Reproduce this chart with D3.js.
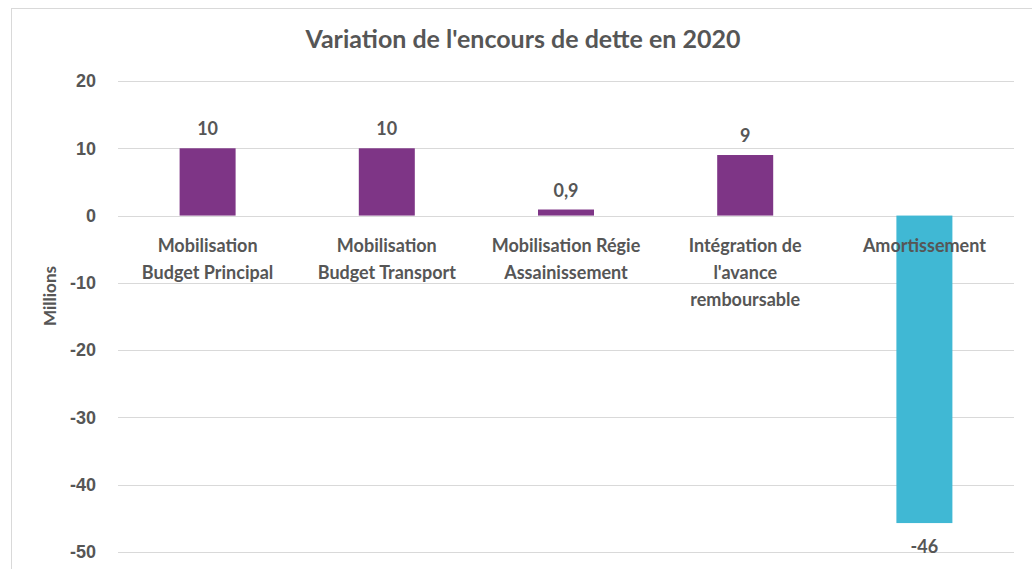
<!DOCTYPE html>
<html>
<head>
<meta charset="utf-8">
<script src="https://cdn.jsdelivr.net/npm/d3@7"></script>
<style>
  body { margin: 0; background: #fff; }
  svg { display: block; font-family: Lato, "Open Sans", sans-serif; font-weight: bold; }
  .grid line { stroke: #d9d9d9; stroke-width: 1; }
  .tick-label, .cat-label, .val-label, .title, .y-title { fill: #565656; }
</style>
</head>
<body>
<svg id="chart" width="1032" height="569"></svg>
<script>
//

const categories = [
  ['Mobilisation', 'Budget Principal'],
  ['Mobilisation', 'Budget Transport'],
  ['Mobilisation Régie', 'Assainissement'],
  ['Intégration de', "l'avance", 'remboursable'],
  ['Amortissement']
]
const values = [10, 10, 0.9, 9, -45.7]
const barColors = ['#7e3586', '#7e3586', '#7e3586', '#7e3586', '#40b8d4']
const yTicks = [20, 10, 0, -10, -20, -30, -40, -50]

//

const svg = d3.select('#chart')
const margin = {top: 81, right: 18, bottom: 17, left: 118}
const width = 1032 - margin.left - margin.right
const height = 569 - margin.top - margin.bottom

// chart frame
svg.append('rect')
  .attr('x', 11.5).attr('y', 8.5)
  .attr('width', 1040).attr('height', 600)
  .attr('fill', 'none')
  .attr('stroke', '#d9d9d9')

svg.append('text')
  .attr('class', 'title')
  .attr('x', 523).attr('y', 48)
  .attr('text-anchor', 'middle')
  .attr('font-size', 25)
  .text("Variation de l'encours de dette en 2020")

const g = svg.append('g')
  .attr('transform', 'translate(' + margin.left + ',' + margin.top + ')')

const x = d3.scaleBand()
  .domain(d3.range(categories.length))
  .range([0, width])
  .paddingInner(0.6875)
  .paddingOuter(0.34375)

const y = d3.scaleLinear().domain([20, -50]).range([0, height])

// gridlines
g.append('g')
  .attr('class', 'grid')
  .selectAll('line')
  .data(yTicks)
  .join('line')
  .attr('x1', 0).attr('x2', width)
  .attr('y1', (d) => Math.round(y(d)) + 0.5)
  .attr('y2', (d) => Math.round(y(d)) + 0.5)

// y tick labels (plain hyphen for negatives)
const yAxis = d3.axisLeft(y)
  .tickValues(yTicks)
  .tickSize(0)
  .tickPadding(22)
  .tickFormat((d) => String(d))
const ya = g.append('g').call(yAxis)
ya.select('.domain').remove()
ya.selectAll('text')
  .attr('class', 'tick-label')
  .attr('font-size', 18)
  .attr('font-family', null)
  .attr('fill', null)

svg.append('text')
  .attr('class', 'y-title')
  .attr('transform', 'translate(56,296) rotate(-90)')
  .attr('text-anchor', 'middle')
  .attr('font-size', 17)
  .text('Millions')

// bars
g.selectAll('.bar')
  .data(values)
  .join('rect')
  .attr('class', 'bar')
  .attr('x', (d, i) => x(i))
  .attr('width', x.bandwidth())
  .attr('y', (d) => y(Math.max(0, d)))
  .attr('height', (d) => Math.abs(y(d) - y(0)))
  .attr('fill', (d, i) => barColors[i])

// value labels
const fmt = (v) => String(Math.abs(v) < 1 ? v.toFixed(1) : Math.round(v)).replace('.', ',')
g.selectAll('.val-label')
  .data(values)
  .join('text')
  .attr('class', 'val-label')
  .attr('x', (d, i) => x(i) + x.bandwidth() / 2)
  .attr('y', (d) => d >= 0 ? y(d) - 13 : y(d) + 30)
  .attr('text-anchor', 'middle')
  .attr('font-size', 18)
  .text(fmt)

// category labels
const cat = g.selectAll('.cat-label')
  .data(categories)
  .join('text')
  .attr('class', 'cat-label')
  .attr('x', (d, i) => x(i) + x.bandwidth() / 2)
  .attr('y', y(0) + 36)
  .attr('text-anchor', 'middle')
  .attr('font-size', 18)

cat.selectAll('tspan')
  .data((d) => d)
  .join('tspan')
  .attr('x', function () { return this.parentNode.getAttribute('x') })
  .attr('dy', (d, i) => i === 0 ? 0 : 27)
  .text((d) => d)
</script>
</body>
</html>
